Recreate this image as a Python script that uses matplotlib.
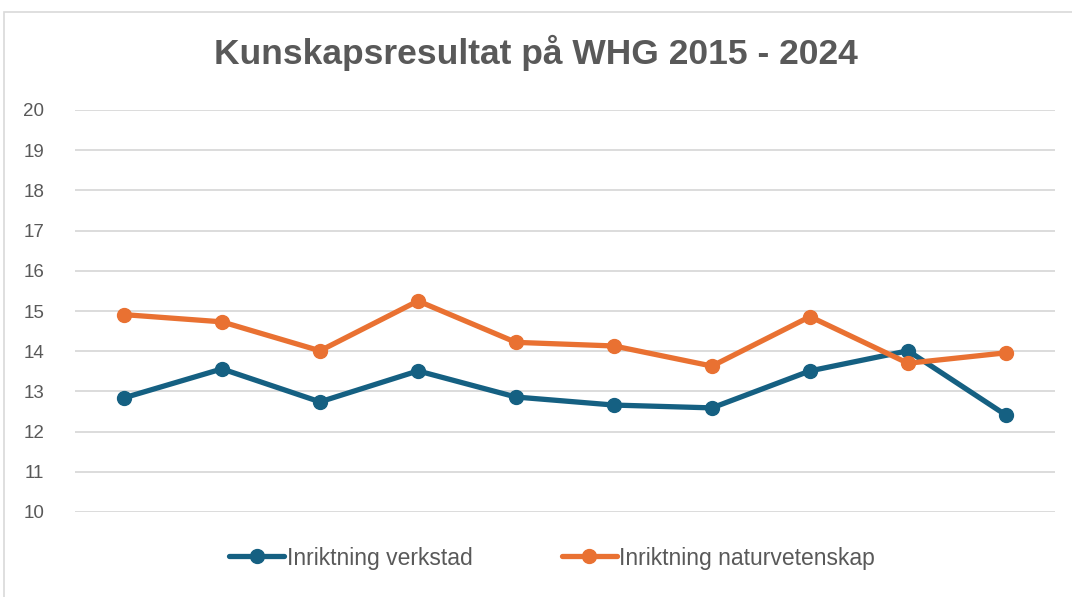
import matplotlib
matplotlib.use("Agg")
import matplotlib.pyplot as plt
from matplotlib.patches import Rectangle

years = [2015, 2016, 2017, 2018, 2019, 2020, 2021, 2022, 2023, 2024]
verkstad = [12.84, 13.56, 12.74, 13.51, 12.86, 12.66, 12.59, 13.51, 14.01, 12.41]
natur = [14.91, 14.73, 14.01, 15.25, 14.22, 14.13, 13.63, 14.86, 13.70, 13.96]
series_names = ["Inriktning verkstad", "Inriktning naturvetenskap"]
yticks = list(range(10, 21))
title = "Kunskapsresultat på WHG 2015 - 2024"

blue = "#156082"
orange = "#E97132"
grey = "#595959"

plt.rcParams['font.family'] = ['Liberation Sans', 'DejaVu Sans']

fig = plt.figure(figsize=(10.72, 5.97), dpi=100)
ax = fig.add_axes([75/1072, 1-512/597, (1055-75)/1072, (512-110)/597])

# chart border
fig.patches.append(Rectangle((4/1072, -0.1), 1.2, 1.1-12/597, transform=fig.transFigure,
                             fill=False, edgecolor="#D9D9D9", linewidth=1.2))

x = list(range(len(years)))
ax.plot(x, verkstad, color=blue, lw=3.8, marker='o', ms=10, label=series_names[0],
        solid_capstyle='round', solid_joinstyle='round')
ax.plot(x, natur, color=orange, lw=3.8, marker='o', ms=10, label=series_names[1],
        solid_capstyle='round', solid_joinstyle='round')

ax.set_xlim(-0.5, len(years) - 0.5)
ax.set_ylim(10, 20)
ax.set_yticks(yticks)
ax.set_xticks([])
ax.grid(axis='y', color='#D9D9D9', lw=1.3)
ax.set_axisbelow(True)
for s in ax.spines.values():
    s.set_visible(False)
ax.tick_params(axis='y', length=0, labelsize=13.5, labelcolor=grey, pad=22)

fig.text(0.5, 1-53/597, title, ha='center', va='center', fontsize=25.5,
         fontweight='bold', color=grey)

leg = fig.legend(loc='center', bbox_to_anchor=(0.515, 1-558/597), ncol=2, frameon=False,
                 fontsize=16.5, labelcolor=grey, handlelength=2.4, handletextpad=0.1,
                 columnspacing=3.9)

fig.savefig("out.png", dpi=100)
